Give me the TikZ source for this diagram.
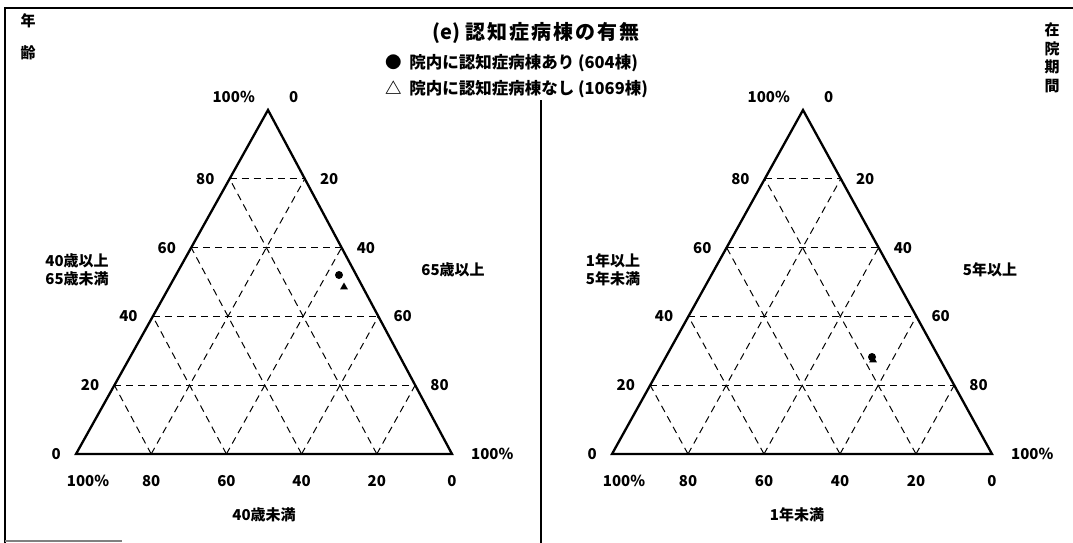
\documentclass[tikz,border=0pt]{standalone}
\usepackage{fontspec}
\setmainfont{Noto Sans CJK JP}
\usetikzlibrary{calc,positioning,shapes.geometric}

\begin{document}
\begin{tikzpicture}[x=1pt,y=-1pt,
    every node/.style={inner sep=1pt,font=\bfseries\fontsize{15}{18.5}\selectfont},
    frame/.style={line width=2.4pt},
    side line/.style={line width=2.3pt,line join=miter},
    grid line/.style={line width=1pt,dash pattern=on 7pt off 5pt},
    dot/.style={circle,fill,minimum size=8pt,inner sep=0pt},
    tri/.style={regular polygon,regular polygon sides=3,fill,minimum size=9pt,inner sep=0pt}]

    \useasboundingbox (0,0) rectangle (1073,543);

    % frame
    \draw[frame] (5,543) -- (5,8) -- (1073,8);
    \draw[frame] (541,100) -- (541,543);
    \draw[line width=1.5pt,gray] (5,541) -- (122,541);

    % headings
    \node (nen) at (28,21) {年};
    \node (rei) at (28,53) {齢};
    \node[align=center] (zaiin) at (1052,58) {在\\院\\期\\間};
    \node[font=\bfseries\fontsize{20}{24}\selectfont] (title) at (536,33) {(e) {\addfontfeature{LetterSpace=10}認知症病棟の有無}};
    \node[anchor=west,font=\bfseries\fontsize{16.5}{20}\selectfont] (leg1) at (384,63) {●\ \ 院内に認知症病棟あり\ (604棟)};
    \node[anchor=west,font=\bfseries\fontsize{16.5}{20}\selectfont] (leg2) at (384,89) {△\ \ 院内に認知症病棟なし\ (1069棟)};

    % left triangle: age
    \coordinate (A1) at (268,110);
    \coordinate (B1) at (76,454);
    \coordinate (C1) at (452,454);
    \foreach \t in {0.2,0.4,0.6,0.8} {
        \draw[grid line] ($(B1)!\t!(A1)$) -- ($(C1)!\t!(A1)$);
        \draw[grid line] ($(B1)!\t!(C1)$) -- ($(A1)!\t!(C1)$);
        \draw[grid line] ($(C1)!\t!(B1)$) -- ($(A1)!\t!(B1)$);
    }
    \draw[side line] (A1) -- (B1) -- (C1) -- cycle;

    \foreach \t/\v in {0.2/20,0.4/40,0.6/60,0.8/80}
        \node[left=14pt] (l1-\v) at ($(B1)!\t!(A1)$) {\v};
    \foreach \t/\v in {0.2/80,0.4/60,0.6/40,0.8/20} {
        \node[right=14pt] (r1-\v) at ($(C1)!\t!(A1)$) {\v};
        \node[below=20pt] (b1-\v) at ($(B1)!\t!(C1)$) {\v};
    }
    \node[above left=6pt and 12pt] (l1-100) at (A1) {100\%};
    \node[above right=6pt and 20pt] (r1-0) at (A1) {0};
    \node[left=14pt] (l1-0) at (B1) {0};
    \node[below=20pt,xshift=12pt] (b1-100) at (B1) {100\%};
    \node[right=18pt] (r1-100) at (C1) {100\%};
    \node[below=20pt] (b1-0) at (C1) {0};

    \node[align=left] (age-mid) at (77,270) {40歳以上\\65歳未満};
    \node (age-old) at (453,270) {65歳以上};
    \node (age-young) at (264,515) {40歳未満};

    \node[dot] (p1-yes) at (339,275) {};
    \node[tri] (p1-no) at (344,287) {};

    % right triangle: length of stay
    \coordinate (A2) at (803,110);
    \coordinate (B2) at (612,454);
    \coordinate (C2) at (992,454);
    \foreach \t in {0.2,0.4,0.6,0.8} {
        \draw[grid line] ($(B2)!\t!(A2)$) -- ($(C2)!\t!(A2)$);
        \draw[grid line] ($(B2)!\t!(C2)$) -- ($(A2)!\t!(C2)$);
        \draw[grid line] ($(C2)!\t!(B2)$) -- ($(A2)!\t!(B2)$);
    }
    \draw[side line] (A2) -- (B2) -- (C2) -- cycle;

    \foreach \t/\v in {0.2/20,0.4/40,0.6/60,0.8/80}
        \node[left=14pt] (l2-\v) at ($(B2)!\t!(A2)$) {\v};
    \foreach \t/\v in {0.2/80,0.4/60,0.6/40,0.8/20} {
        \node[right=14pt] (r2-\v) at ($(C2)!\t!(A2)$) {\v};
        \node[below=20pt] (b2-\v) at ($(B2)!\t!(C2)$) {\v};
    }
    \node[above left=6pt and 12pt] (l2-100) at (A2) {100\%};
    \node[above right=6pt and 20pt] (r2-0) at (A2) {0};
    \node[left=14pt] (l2-0) at (B2) {0};
    \node[below=20pt,xshift=12pt] (b2-100) at (B2) {100\%};
    \node[right=18pt] (r2-100) at (C2) {100\%};
    \node[below=20pt] (b2-0) at (C2) {0};

    \node[align=left] (stay-mid) at (613,270) {1年以上\\5年未満};
    \node (stay-long) at (990,270) {5年以上};
    \node (stay-short) at (797,515) {1年未満};

    \node[tri] (p2-no) at (873,360) {};
    \node[dot] (p2-yes) at (872,357) {};
\end{tikzpicture}
\end{document}
